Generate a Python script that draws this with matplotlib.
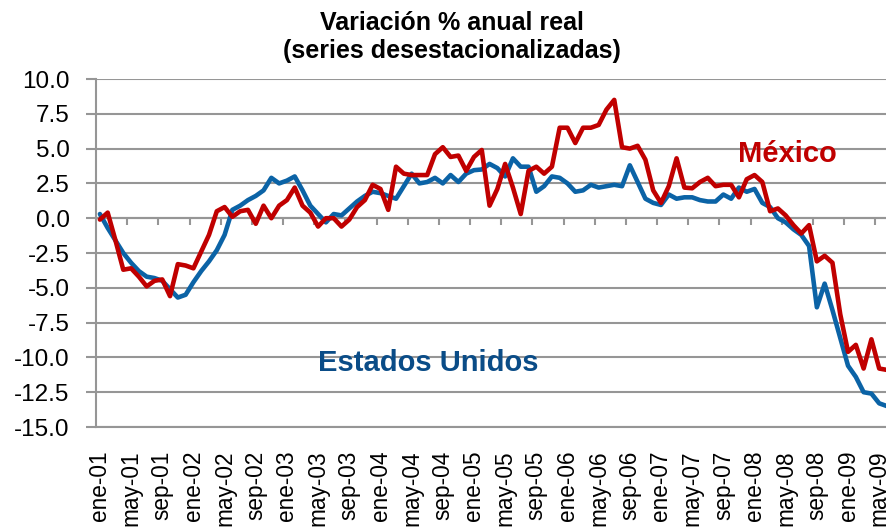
import matplotlib
matplotlib.use("Agg")
import matplotlib.pyplot as plt

plt.rcParams["font.family"] = ["Liberation Sans", "DejaVu Sans"]

# monthly series, ene-01 .. jun-09 (real annual % change, seasonally adjusted)
mexico = [
    -0.1, 0.4, -1.6, -3.7, -3.6, -4.2, -4.9, -4.5, -4.4, -5.6,
    -3.3, -3.4, -3.6, -2.4, -1.2, 0.5, 0.8, 0.1, 0.5, 0.6,
    -0.4, 0.9, 0.0, 0.9, 1.3, 2.2, 0.9, 0.4, -0.6, 0.0,
    0.0, -0.6, -0.1, 0.8, 1.3, 2.4, 2.1, 0.6, 3.7, 3.2,
    3.1, 3.1, 3.1, 4.6, 5.1, 4.4, 4.5, 3.4, 4.4, 4.9,
    0.9, 2.1, 3.9, 2.2, 0.3, 3.4, 3.7, 3.2, 3.7, 6.5,
    6.5, 5.4, 6.5, 6.5, 6.7, 7.8, 8.5, 5.1, 5.0, 5.2,
    4.2, 2.0, 1.1, 2.3, 4.3, 2.2, 2.15, 2.6, 2.9, 2.3,
    2.4, 2.4, 1.5, 2.8, 3.1, 2.6, 0.5, 0.7, 0.2, -0.5,
    -1.1, -0.5, -3.1, -2.7, -3.2, -6.9, -9.6, -9.1, -10.8, -8.7,
    -10.8, -10.9,
]
estados_unidos = [
    0.3, -0.7, -1.6, -2.5, -3.2, -3.8, -4.2, -4.3, -4.5, -5.1,
    -5.7, -5.5, -4.6, -3.8, -3.1, -2.3, -1.2, 0.6, 0.9, 1.3,
    1.6, 2.0, 2.9, 2.5, 2.7, 3.0, 2.0, 0.9, 0.3, -0.3,
    0.3, 0.2, 0.7, 1.2, 1.6, 1.9, 1.8, 1.6, 1.4, 2.3,
    3.2, 2.5, 2.6, 2.9, 2.5, 3.1, 2.6, 3.2, 3.45, 3.5,
    3.9, 3.6, 3.0, 4.3, 3.7, 3.7, 1.9, 2.3, 3.0, 2.9,
    2.5, 1.9, 2.0, 2.4, 2.2, 2.3, 2.4, 2.3, 3.8, 2.6,
    1.4, 1.1, 0.95, 1.7, 1.4, 1.5, 1.5, 1.3, 1.2, 1.2,
    1.7, 1.4, 2.2, 1.9, 2.1, 1.1, 0.8, 0.0, -0.3, -0.8,
    -1.2, -2.0, -6.4, -4.7, -6.6, -8.6, -10.6, -11.4, -12.5, -12.6,
    -13.3, -13.5,
]
tick_labels = [
    "ene-01", "may-01", "sep-01", "ene-02", "may-02", "sep-02",
    "ene-03", "may-03", "sep-03", "ene-04", "may-04", "sep-04",
    "ene-05", "may-05", "sep-05", "ene-06", "may-06", "sep-06",
    "ene-07", "may-07", "sep-07", "ene-08", "may-08", "sep-08",
    "ene-09", "may-09",
]
y_ticks = [10.0, 7.5, 5.0, 2.5, 0.0, -2.5, -5.0, -7.5, -10.0, -12.5, -15.0]

GRAY = "#969696"
BLUE = "#0B63A6"
RED = "#C00000"

fig = plt.figure(figsize=(8.87, 5.30), dpi=100)
ax = fig.add_axes([96 / 887, 1 - 427 / 530, 791 / 887, 348 / 530])

x = list(range(len(mexico)))
ax.plot(x, estados_unidos, color=BLUE, lw=3.3, solid_joinstyle="round",
        solid_capstyle="round", zorder=3)
ax.plot(x, mexico, color=RED, lw=3.3, solid_joinstyle="round",
        solid_capstyle="round", zorder=4)

ax.set_xlim(-0.5, 101.0)
ax.set_ylim(-15, 10)

# y axis
ax.set_yticks(y_ticks)
ax.set_yticklabels([f"{v:.1f}" for v in y_ticks])
ax.yaxis.grid(True, color=GRAY, lw=1.5)
ax.set_axisbelow(True)
ax.tick_params(axis="y", length=7, width=1.5, color=GRAY, pad=12,
               labelsize=17.5)

# category labels at the bottom, no tick marks there
ax.set_xticks(x[::4])
ax.set_xticklabels(tick_labels, rotation=90, va="top", ha="center")
ax.tick_params(axis="x", length=0, pad=17, labelsize=16.3)

for side in ["top", "right"]:
    ax.spines[side].set_visible(False)
ax.spines["left"].set_color(GRAY)
ax.spines["left"].set_linewidth(1.5)
ax.spines["bottom"].set_color(GRAY)
ax.spines["bottom"].set_linewidth(1.5)

# category axis crossing at zero, ticks between categories
zero_axis = ax.secondary_xaxis(0, transform=ax.transData)
zero_axis.set_xticks([i - 0.5 for i in x[4::4]])
zero_axis.set_xticklabels([])
zero_axis.tick_params(axis="x", length=5, width=1.5, color=GRAY,
                      direction="out")
zero_axis.spines["bottom"].set_color(GRAY)
zero_axis.spines["bottom"].set_linewidth(1.5)

ax.text(88.2, 4.6, "México", color=RED, fontsize=21, fontweight="bold",
        ha="center", va="center")
ax.text(42.1, -10.4, "Estados Unidos", color="#0A4C87", fontsize=21,
        fontweight="bold", ha="center", va="center")

fig.text(452 / 887, 1 - 37 / 530,
         "Variación % anual real\n(series desestacionalizadas)",
         ha="center", va="center", fontsize=18, fontweight="bold",
         linespacing=1.25)

fig.savefig("out.png", dpi=100)
